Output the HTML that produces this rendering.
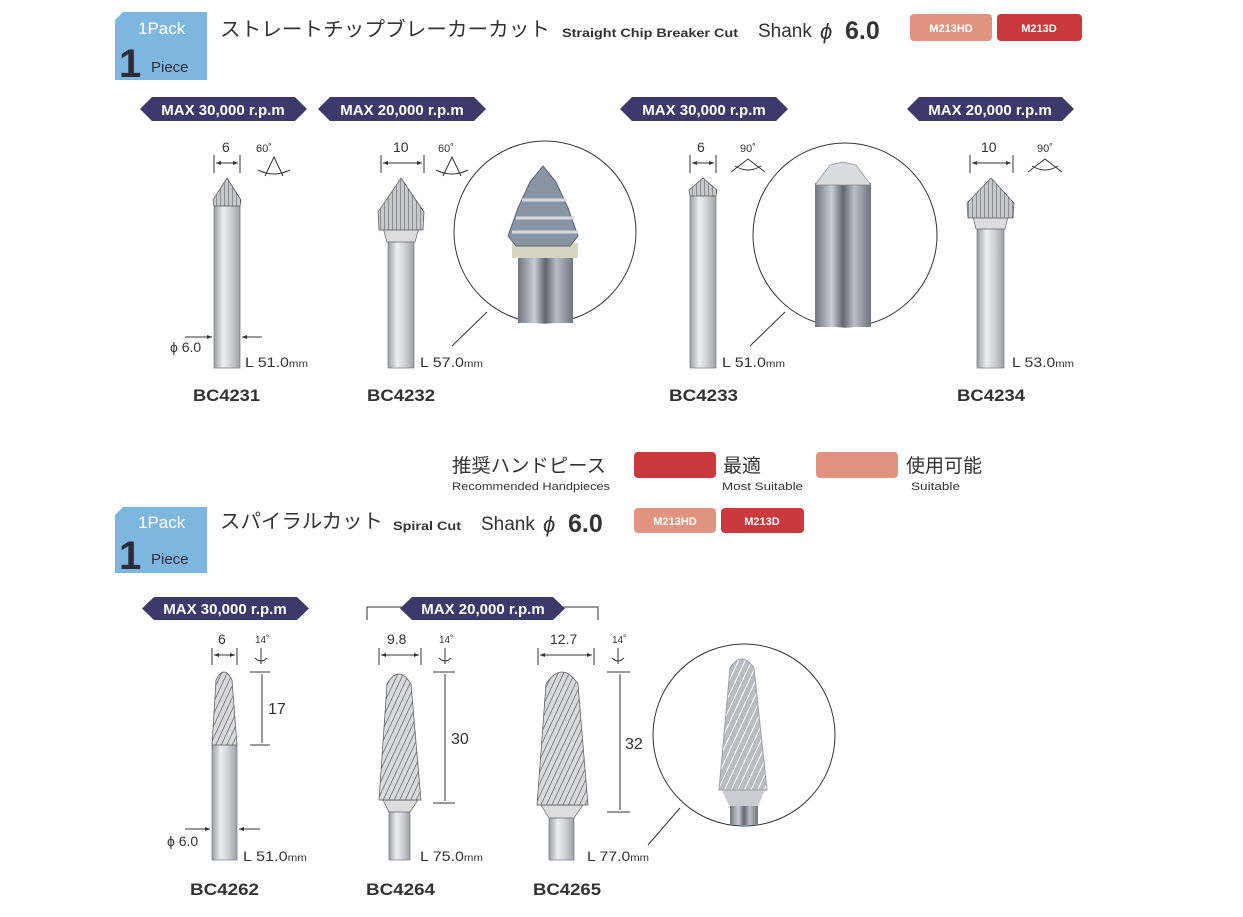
<!DOCTYPE html>
<html><head><meta charset="utf-8"><style>
html,body{margin:0;padding:0;background:#fff;}
svg{display:block;}
text{font-family:"Liberation Sans","Noto Sans CJK JP",sans-serif;fill:#333;}
.b{font-weight:bold;}
.w{fill:#fff;}
</style></head><body>
<svg width="1243" height="917" viewBox="0 0 1243 917" xmlns="http://www.w3.org/2000/svg">
<defs>
<linearGradient id="sh" x1="0" x2="1" y1="0" y2="0">
<stop offset="0" stop-color="#9a9ea4"/><stop offset="0.35" stop-color="#eceef0"/><stop offset="0.6" stop-color="#d4d7db"/><stop offset="1" stop-color="#9ea2a8"/>
</linearGradient>
<linearGradient id="sh2" x1="0" x2="1" y1="0" y2="0">
<stop offset="0" stop-color="#6d7580"/><stop offset="0.3" stop-color="#c9ced6"/><stop offset="0.5" stop-color="#5e6670"/><stop offset="0.7" stop-color="#b8bec6"/><stop offset="1" stop-color="#6d7580"/>
</linearGradient>
<pattern id="hat" width="5" height="5" patternUnits="userSpaceOnUse" patternTransform="rotate(25)">
<rect width="5" height="5" fill="#d8dadd"/><line x1="0" y1="0" x2="0" y2="5" stroke="#555" stroke-width="1.3"/>
</pattern>
<pattern id="hat2" width="6" height="6" patternUnits="userSpaceOnUse" patternTransform="rotate(25)">
<rect width="6" height="6" fill="#b8bdc4"/><line x1="0" y1="0" x2="0" y2="6" stroke="#fff" stroke-width="2"/>
</pattern>
<pattern id="cone" width="4" height="4" patternUnits="userSpaceOnUse">
<rect width="4" height="4" fill="#c5c8cc"/><line x1="0" y1="0" x2="0" y2="4" stroke="#555" stroke-width="1"/>
</pattern>
<marker id="ar" markerWidth="6" markerHeight="6" refX="5" refY="3" orient="auto"><path d="M0,1 L5,3 L0,5z" fill="#333"/></marker>
</defs>

<!-- Badge 1 -->
<path d="M123,12 H207 V80 H115 V20 Z" fill="#7db6de"/>
<text x="138" y="34" class="w" font-size="17">1Pack</text>
<text x="119" y="77" font-size="40" class="b" style="fill:#2d2d3a">1</text>
<text x="151" y="72" font-size="15" style="fill:#2d2d3a">Piece</text>
<text x="220" y="36" font-size="20" textLength="330" lengthAdjust="spacingAndGlyphs">ストレートチップブレーカーカット</text>
<text x="562" y="37" font-size="12" class="b" textLength="176" lengthAdjust="spacingAndGlyphs">Straight Chip Breaker Cut</text>
<text x="758" y="37" font-size="19">Shank</text><text x="820" y="39" font-size="22" font-style="italic">ϕ</text><text x="845" y="39" font-size="25" class="b">6.0</text>
<rect x="910" y="14" width="82" height="27" rx="4" fill="#e09480"/>
<rect x="997" y="14" width="85" height="27" rx="4" fill="#c9393d"/>
<text x="951" y="32" font-size="11" class="w b" text-anchor="middle">M213HD</text>
<text x="1039" y="32" font-size="11" class="w b" text-anchor="middle">M213D</text>

<!-- Banners row 1 -->
<g fill="#3b3a6b">
<path d="M152,97 H295 L307,109 L295,121 H152 L140,109Z"/>
<path d="M330,97 H474 L486,109 L474,121 H330 L318,109Z"/>
<path d="M632,97 H776 L788,109 L776,121 H632 L620,109Z"/>
<path d="M919,97 H1062 L1074,109 L1062,121 H919 L907,109Z"/>
</g>
<g class="b" font-size="15" text-anchor="middle">
<text x="223" y="115" class="w">MAX 30,000 r.p.m</text>
<text x="402" y="115" class="w">MAX 20,000 r.p.m</text>
<text x="704" y="115" class="w">MAX 30,000 r.p.m</text>
<text x="990" y="115" class="w">MAX 20,000 r.p.m</text>
</g>

<!-- dims row1 -->
<g stroke="#333" stroke-width="1" fill="none">
<line x1="214" y1="155" x2="214" y2="173"/><line x1="240" y1="155" x2="240" y2="173"/><line x1="216" y1="163" x2="238" y2="163" marker-end="url(#ar)"/><line x1="238" y1="163" x2="216" y2="163" marker-end="url(#ar)"/>
<line x1="381" y1="155" x2="381" y2="173"/><line x1="424" y1="155" x2="424" y2="173"/><line x1="383" y1="163" x2="422" y2="163" marker-end="url(#ar)"/><line x1="422" y1="163" x2="383" y2="163" marker-end="url(#ar)"/>
<line x1="690" y1="155" x2="690" y2="173"/><line x1="716" y1="155" x2="716" y2="173"/><line x1="692" y1="163" x2="714" y2="163" marker-end="url(#ar)"/><line x1="714" y1="163" x2="692" y2="163" marker-end="url(#ar)"/>
<line x1="970" y1="155" x2="970" y2="173"/><line x1="1013" y1="155" x2="1013" y2="173"/><line x1="972" y1="163" x2="1011" y2="163" marker-end="url(#ar)"/><line x1="1011" y1="163" x2="972" y2="163" marker-end="url(#ar)"/>
<path d="M265,176 L274,157 L283,176 M258,170 Q274,178 290,170"/>
<path d="M443,176 L452,157 L461,176 M436,170 Q452,178 468,170"/>
<path d="M731,172 L748,159 L765,172 M735,166 Q748,174 761,166"/>
<path d="M1028,172 L1045,159 L1062,172 M1032,166 Q1045,174 1058,166"/>
<line x1="185" y1="337" x2="212" y2="337" marker-end="url(#ar)"/><line x1="262" y1="337" x2="242" y2="337" marker-end="url(#ar)"/>
<line x1="487" y1="312" x2="452" y2="346"/><line x1="785" y1="312" x2="750" y2="346"/><line x1="680" y1="808" x2="648" y2="845"/>
</g>
<g font-size="14">
<text x="222" y="152">6</text><text x="393" y="152">10</text><text x="697" y="152">6</text><text x="981" y="152">10</text>
<text x="256" y="152" font-size="11">60˚</text><text x="438" y="152" font-size="11">60˚</text><text x="740" y="152" font-size="11">90˚</text><text x="1037" y="152" font-size="11">90˚</text>
<text x="170" y="352">ϕ 6.0</text>
<text x="245" y="367" textLength="63" lengthAdjust="spacingAndGlyphs">L 51.0<tspan font-size="10">mm</tspan></text>
<text x="420" y="367" textLength="63" lengthAdjust="spacingAndGlyphs">L 57.0<tspan font-size="10">mm</tspan></text>
<text x="722" y="367" textLength="63" lengthAdjust="spacingAndGlyphs">L 51.0<tspan font-size="10">mm</tspan></text>
<text x="1012" y="367" textLength="62" lengthAdjust="spacingAndGlyphs">L 53.0<tspan font-size="10">mm</tspan></text>
</g>

<!-- tools row1 -->
<rect x="214" y="205" width="26" height="163" fill="url(#sh)" stroke="#777" stroke-width="0.7"/>
<path d="M227,178 L241,200 L240,206 H214 L213,200Z" fill="url(#cone)" stroke="#555" stroke-width="0.7"/>
<rect x="388" y="240" width="26" height="128" fill="url(#sh)" stroke="#777" stroke-width="0.7"/>
<path d="M383,228 H419 L415,242 H387Z" fill="#ddd" stroke="#666" stroke-width="0.7"/>
<path d="M401,178 L424,212 L423,230 H379 L378,212Z" fill="url(#cone)" stroke="#555" stroke-width="0.7"/>
<rect x="690" y="193" width="26" height="175" fill="url(#sh)" stroke="#777" stroke-width="0.7"/>
<path d="M703,178 L717,190 L716,196 H690 L689,190Z" fill="url(#cone)" stroke="#555" stroke-width="0.7"/>
<rect x="977" y="226" width="27" height="142" fill="url(#sh)" stroke="#777" stroke-width="0.7"/>
<path d="M973,217 H1008 L1005,229 H976Z" fill="#ddd" stroke="#666" stroke-width="0.7"/>
<path d="M991,178 L1014,203 L1013,218 H968 L967,203Z" fill="url(#cone)" stroke="#555" stroke-width="0.7"/>

<!-- circle 1 -->
<circle cx="545" cy="232" r="91" fill="#fff" stroke="#333" stroke-width="1"/>
<rect x="518" y="258" width="55" height="65" fill="url(#sh2)"/>
<rect x="512" y="243" width="66" height="15" fill="#d8d4c4"/>
<path d="M543,166 L556,182 L568,208 L578,236 L570,246 H516 L508,236 L518,208 L530,182Z" fill="#8a95a4" stroke="#5c6470" stroke-width="1"/>
<path d="M522,200 L566,200 M516,218 L574,218 M512,232 L578,232" stroke="#d5dae0" stroke-width="3"/>
<!-- circle 2 -->
<circle cx="845" cy="235" r="92" fill="#fff" stroke="#333" stroke-width="1"/>
<rect x="815" y="183" width="56" height="144" fill="url(#sh2)"/>
<path d="M815,185 L830,165 L843,162 L856,165 L871,185Z" fill="#d9dde2" stroke="#888" stroke-width="0.7"/>

<g font-size="17" class="b">
<text x="193" y="401" textLength="67" lengthAdjust="spacingAndGlyphs">BC4231</text>
<text x="367" y="401" textLength="68" lengthAdjust="spacingAndGlyphs">BC4232</text>
<text x="669" y="401" textLength="69" lengthAdjust="spacingAndGlyphs">BC4233</text>
<text x="957" y="401" textLength="68" lengthAdjust="spacingAndGlyphs">BC4234</text>
</g>

<!-- legend -->
<text x="452" y="472" font-size="19" textLength="154" lengthAdjust="spacingAndGlyphs">推奨ハンドピース</text>
<text x="452" y="490" font-size="11" textLength="158" lengthAdjust="spacingAndGlyphs">Recommended Handpieces</text>
<rect x="634" y="452" width="82" height="26" rx="4" fill="#c9393d"/>
<text x="723" y="472" font-size="19">最適</text>
<text x="722" y="490" font-size="11" textLength="81" lengthAdjust="spacingAndGlyphs">Most Suitable</text>
<rect x="816" y="452" width="82" height="26" rx="4" fill="#e09480"/>
<text x="906" y="472" font-size="19">使用可能</text>
<text x="911" y="490" font-size="11" textLength="49" lengthAdjust="spacingAndGlyphs">Suitable</text>

<!-- Badge 2 -->
<path d="M123,507 H207 V573 H115 V515 Z" fill="#7db6de"/>
<text x="138" y="528" class="w" font-size="17">1Pack</text>
<text x="119" y="569" font-size="40" class="b" style="fill:#2d2d3a">1</text>
<text x="151" y="564" font-size="15" style="fill:#2d2d3a">Piece</text>
<text x="220" y="528" font-size="20" textLength="163" lengthAdjust="spacingAndGlyphs">スパイラルカット</text>
<text x="393" y="530" font-size="12" class="b" textLength="68" lengthAdjust="spacingAndGlyphs">Spiral Cut</text>
<text x="481" y="530" font-size="19">Shank</text><text x="543" y="532" font-size="22" font-style="italic">ϕ</text><text x="568" y="532" font-size="25" class="b">6.0</text>
<rect x="634" y="508" width="82" height="25" rx="4" fill="#e09480"/>
<rect x="721" y="508" width="83" height="25" rx="4" fill="#c9393d"/>
<text x="675" y="525" font-size="11" class="w b" text-anchor="middle">M213HD</text>
<text x="762" y="525" font-size="11" class="w b" text-anchor="middle">M213D</text>

<g fill="#3b3a6b">
<path d="M154,597 H297 L309,608.5 L297,620 H154 L142,608.5Z"/>
<path d="M412,597 H553 L565,608.5 L553,620 H412 L400,608.5Z"/>
</g>
<text x="225" y="614" font-size="15" class="w b" text-anchor="middle">MAX 30,000 r.p.m</text>
<text x="483" y="614" font-size="15" class="w b" text-anchor="middle">MAX 20,000 r.p.m</text>

<g stroke="#333" stroke-width="1" fill="none">
<path d="M367,620 V607 H402 M563,607 H598 V620"/>
<line x1="212" y1="648" x2="212" y2="665"/><line x1="237" y1="648" x2="237" y2="665"/><line x1="214" y1="655" x2="235" y2="655" marker-end="url(#ar)"/><line x1="235" y1="655" x2="214" y2="655" marker-end="url(#ar)"/>
<line x1="379" y1="648" x2="379" y2="665"/><line x1="421" y1="648" x2="421" y2="665"/><line x1="381" y1="655" x2="419" y2="655" marker-end="url(#ar)"/><line x1="419" y1="655" x2="381" y2="655" marker-end="url(#ar)"/>
<line x1="538" y1="648" x2="538" y2="665"/><line x1="594" y1="648" x2="594" y2="665"/><line x1="540" y1="655" x2="592" y2="655" marker-end="url(#ar)"/><line x1="592" y1="655" x2="540" y2="655" marker-end="url(#ar)"/>
<path d="M261,648 V664 M255,658 Q261,664 267,658"/>
<path d="M445,648 V664 M439,658 Q445,664 451,658"/>
<path d="M618,648 V664 M612,658 Q618,664 624,658"/>
<line x1="250" y1="672" x2="270" y2="672"/><line x1="250" y1="745" x2="270" y2="745"/><line x1="262" y1="674" x2="262" y2="743"/>
<line x1="433" y1="672" x2="455" y2="672"/><line x1="433" y1="803" x2="455" y2="803"/><line x1="445" y1="674" x2="445" y2="801"/>
<line x1="607" y1="672" x2="630" y2="672"/><line x1="607" y1="812" x2="630" y2="812"/><line x1="620" y1="674" x2="620" y2="810"/>
<line x1="185" y1="829" x2="210" y2="829" marker-end="url(#ar)"/><line x1="260" y1="829" x2="239" y2="829" marker-end="url(#ar)"/>
</g>
<g font-size="14">
<text x="218" y="644">6</text><text x="387" y="644">9.8</text><text x="550" y="644">12.7</text>
<text x="255" y="643" font-size="10">14˚</text><text x="439" y="643" font-size="10">14˚</text><text x="612" y="643" font-size="10">14˚</text>
<text x="268" y="714" font-size="16">17</text><text x="451" y="744" font-size="16">30</text><text x="625" y="749" font-size="16">32</text>
<text x="167" y="846">ϕ 6.0</text>
<text x="243" y="861" textLength="64" lengthAdjust="spacingAndGlyphs">L 51.0<tspan font-size="10">mm</tspan></text>
<text x="420" y="861" textLength="63" lengthAdjust="spacingAndGlyphs">L 75.0<tspan font-size="10">mm</tspan></text>
<text x="587" y="861" textLength="62" lengthAdjust="spacingAndGlyphs">L 77.0<tspan font-size="10">mm</tspan></text>
</g>

<!-- tools row2 -->
<rect x="212" y="743" width="25" height="117" fill="url(#sh)" stroke="#777" stroke-width="0.7"/>
<path d="M212,745 L216,680 Q224,664 232,680 L237,745Z" fill="url(#hat)" stroke="#555" stroke-width="0.7"/>
<rect x="389" y="810" width="21" height="50" fill="url(#sh)" stroke="#777" stroke-width="0.7"/>
<path d="M383,800 H418 L410,812 H389Z" fill="#ddd" stroke="#666" stroke-width="0.7"/>
<path d="M379,800 L387,684 Q399,664 411,684 L421,800Z" fill="url(#hat)" stroke="#555" stroke-width="0.7"/>
<rect x="549" y="815" width="25" height="45" fill="url(#sh)" stroke="#777" stroke-width="0.7"/>
<path d="M541,805 H583 L574,818 H549Z" fill="#ddd" stroke="#666" stroke-width="0.7"/>
<path d="M537,805 L546,684 Q562,660 578,684 L588,805Z" fill="url(#hat)" stroke="#555" stroke-width="0.7"/>

<!-- circle 3 -->
<circle cx="744" cy="735" r="91" fill="#fff" stroke="#333" stroke-width="1"/>
<rect x="730" y="800" width="28" height="25" fill="url(#sh2)"/>
<path d="M722,790 H765 L758,806 H729Z" fill="#c8cdd4"/>
<path d="M719,790 L730,668 Q742,650 754,668 L767,790Z" fill="url(#hat2)" stroke="#9aa0a8" stroke-width="1"/>

<g font-size="17" class="b">
<text x="190" y="895" textLength="69" lengthAdjust="spacingAndGlyphs">BC4262</text>
<text x="366" y="895" textLength="69" lengthAdjust="spacingAndGlyphs">BC4264</text>
<text x="533" y="895" textLength="68" lengthAdjust="spacingAndGlyphs">BC4265</text>
</g>
</svg>
</body></html>
